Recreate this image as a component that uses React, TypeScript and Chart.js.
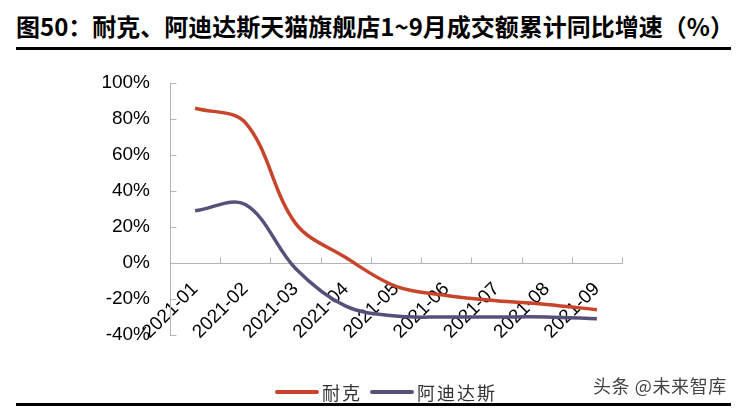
import React, { useEffect, useRef } from "react";
import { Chart, registerables } from "chart.js";

Chart.register(...registerables);

const TITLE = "图50：耐克、阿迪达斯天猫旗舰店1~9月成交额累计同比增速（%）";
const WATERMARK = "头条 @未来智库";
const categories = ["2021-01", "2021-02", "2021-03", "2021-04", "2021-05", "2021-06", "2021-07", "2021-08", "2021-09"];
const seriesNames = ["耐克", "阿迪达斯"];
const nikeValues = [86, 78, 22, 3, -13, -18, -21, -23, -26];
const adidasValues = [29, 32.5, -3, -24, -29.5, -30, -30, -30, -31];
const seriesColors = ["#C8452B", "#57517A"];
const yMin = -40;
const yMax = 100;
const yStep = 20;

const AXIS_COLOR = "#b4b4b4";

const insideTicks = {
  id: "insideTicks",
  beforeDatasetsDraw(chart: any) {
    const { ctx, scales } = chart;
    const x = scales.x;
    const y = scales.y;
    ctx.save();
    ctx.strokeStyle = AXIS_COLOR;
    ctx.lineWidth = 1;
    const y0 = Math.round(y.getPixelForValue(0)) + 0.5;
    const n = x.ticks.length;
    for (let i = 0; i <= n; i++) {
      const px = Math.round(x.left + (i * x.width) / n) + 0.5;
      ctx.beginPath();
      ctx.moveTo(px, y0);
      ctx.lineTo(px, y0 - 6);
      ctx.stroke();
    }
    const ax = Math.round(y.right) + 0.5;
    y.ticks.forEach((_t: any, i: number) => {
      const py = Math.round(y.getPixelForTick(i)) + 0.5;
      ctx.beginPath();
      ctx.moveTo(ax, py);
      ctx.lineTo(ax + 6, py);
      ctx.stroke();
    });
    ctx.restore();
  },
};

export default function App() {
  const ref = useRef<HTMLCanvasElement | null>(null);
  useEffect(() => {
    if (!ref.current) return;
    const chart = new Chart(ref.current, {
      type: "line",
      data: {
        labels: categories,
        datasets: [
          {
            label: seriesNames[0],
            data: nikeValues,
            borderColor: seriesColors[0],
            backgroundColor: seriesColors[0],
            borderWidth: 3.5,
            pointRadius: 0,
            tension: 0.35,
          },
          {
            label: seriesNames[1],
            data: adidasValues,
            borderColor: seriesColors[1],
            backgroundColor: seriesColors[1],
            borderWidth: 3.5,
            pointRadius: 0,
            tension: 0.35,
          },
        ],
      },
      options: {
        animation: false,
        responsive: false,
        devicePixelRatio: 1,
        layout: { padding: { left: 0, top: 83, right: 119, bottom: 74 } },
        plugins: { legend: { display: false }, tooltip: { enabled: false } },
        scales: {
          x: {
            type: "category",
            position: { y: 0 } as any,
            offset: true,
            grid: { display: false, drawTicks: false },
            border: { display: true, color: AXIS_COLOR, width: 1 },
            ticks: {
              color: "#000",
              font: { family: "'Liberation Sans', Arial, sans-serif", size: 19 },
              minRotation: 45,
              maxRotation: 45,
              padding: 15,
              autoSkip: false,
            },
          },
          y: {
            min: yMin,
            max: yMax,
            grid: { display: false, drawTicks: false },
            border: { display: true, color: AXIS_COLOR, width: 1 },
            afterFit: (s: any) => {
              s.width = 170;
            },
            ticks: {
              stepSize: yStep,
              color: "#000",
              padding: 20,
              font: { family: "'Liberation Sans', Arial, sans-serif", size: 19 },
              callback: (v: any) => `${v}%`,
            },
          },
        },
      },
      plugins: [insideTicks],
    });
    return () => chart.destroy();
  }, []);

  return (
    <div style={{ position: "absolute", left: 0, top: 0, width: 741, height: 409, background: "#fff", overflow: "hidden" }}>
      <div
        style={{
          position: "absolute",
          left: 16,
          top: 11,
          fontFamily: "'Noto Sans CJK SC', sans-serif",
          fontWeight: 700,
          fontSize: 24,
          lineHeight: "30px",
          color: "#000",
          whiteSpace: "nowrap",
        }}
      >
        {TITLE}
      </div>
      <div style={{ position: "absolute", left: 16, top: 47, width: 715, height: 3, background: "#000" }} />
      <canvas ref={ref} width={741} height={409} style={{ position: "absolute", left: 0, top: 0, width: 741, height: 409 }} />
      <div
        style={{
          position: "absolute",
          left: 275,
          top: 380,
          display: "flex",
          alignItems: "center",
          fontFamily: "'Noto Sans CJK SC', sans-serif",
          fontSize: 18,
          lineHeight: "24px",
          color: "#333",
          letterSpacing: 2,
          whiteSpace: "nowrap",
        }}
      >
        {seriesNames.map((name, i) => (
          <div key={name} style={{ display: "flex", alignItems: "center", marginRight: 8 }}>
            <div style={{ width: 44, height: 3.5, background: seriesColors[i], borderRadius: 2, marginRight: 3 }} />
            <span>{name}</span>
          </div>
        ))}
      </div>
      <div
        style={{
          position: "absolute",
          left: 593,
          top: 372,
          fontFamily: "'Noto Sans CJK SC', sans-serif",
          fontSize: 18,
          lineHeight: "26px",
          color: "#444",
          letterSpacing: 0.6,
          whiteSpace: "nowrap",
        }}
      >
        {WATERMARK}
      </div>
      <div style={{ position: "absolute", left: 16, top: 403, width: 715, height: 3, background: "#000" }} />
    </div>
  );
}
